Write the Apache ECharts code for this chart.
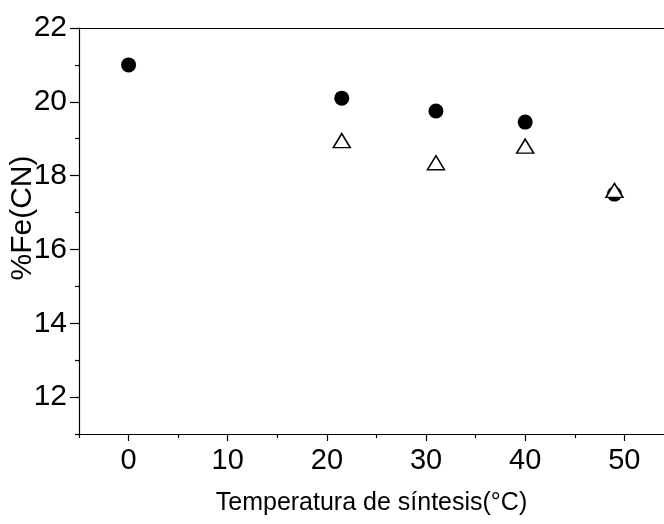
<!DOCTYPE html>
<html>
<head>
<meta charset="utf-8">
<script src="https://cdn.jsdelivr.net/npm/echarts@6/dist/echarts.min.js"></script>
<style>
  html, body { margin: 0; padding: 0; background: #fff; }
  #chart { width: 664px; height: 524px; }
</style>
</head>
<body>
<div id="chart"></div>
<script>
// ---- data ----
const tempsCircle = [0, 21.5, 31, 40, 49];
const feCircle = [21.0, 20.1, 19.75, 19.45, 17.5];
const tempsTriangle = [21.5, 31, 40, 49];
const feTriangle = [18.95, 18.35, 18.8, 17.6];

const xMajorTicks = [0, 10, 20, 30, 40, 50];
const xMinorTicks = [-5, 5, 15, 25, 35, 45];
const yMajorTicks = [12, 14, 16, 18, 20, 22];
const yMinorTicks = [11, 13, 15, 17, 19, 21];

const xTitle = 'Temperatura de síntesis(°C)';
const yTitle = '%Fe(CN)';

// ---- chart ----
const FONT = '"Liberation Sans", Arial, sans-serif';
const X_MIN = -5, X_MAX = 54, Y_MIN = 11, Y_MAX = 22;
const lineStyle = { color: '#000', width: 1.2 };

const chart = echarts.init(document.getElementById('chart'), null, { renderer: 'canvas' });

const option = {
  backgroundColor: '#fff',
  animation: false,
  grid: { left: 79, top: 28, right: 0, bottom: 90, containLabel: false, outerBoundsMode: 'none' },
  xAxis: [
    {
      type: 'value', position: 'bottom', min: X_MIN, max: X_MAX,
      name: xTitle, nameLocation: 'middle', nameGap: 57, nameMoveOverlap: false,
      nameTextStyle: { fontFamily: FONT, fontSize: 25, color: '#000' },
      axisLine: { show: true, onZero: false, lineStyle: lineStyle },
      axisTick: { show: true, inside: false, length: 7, customValues: xMajorTicks, lineStyle: lineStyle },
      axisLabel: { show: true, customValues: xMajorTicks, margin: 12, fontFamily: FONT, fontSize: 29, color: '#000' },
      splitLine: { show: false }
    },
    {
      type: 'value', position: 'bottom', min: X_MIN, max: X_MAX,
      axisLine: { show: false, onZero: false },
      axisTick: { show: true, inside: false, length: 4, customValues: xMinorTicks, lineStyle: lineStyle },
      axisLabel: { show: false },
      splitLine: { show: false }
    },
    {
      type: 'value', position: 'top', min: X_MIN, max: X_MAX,
      axisLine: { show: true, onZero: false, lineStyle: lineStyle },
      axisTick: { show: false },
      axisLabel: { show: false },
      splitLine: { show: false }
    }
  ],
  yAxis: [
    {
      type: 'value', position: 'left', min: Y_MIN, max: Y_MAX,
      name: yTitle, nameLocation: 'middle', nameGap: 41, nameRotate: 90, nameMoveOverlap: false,
      nameTextStyle: { fontFamily: FONT, fontSize: 30, color: '#000', padding: [0, 0, 0, 26] },
      axisLine: { show: true, onZero: false, lineStyle: lineStyle },
      axisTick: { show: true, inside: false, length: 9, customValues: yMajorTicks, lineStyle: lineStyle },
      axisLabel: { show: true, customValues: yMajorTicks, margin: 12, fontFamily: FONT, fontSize: 30, color: '#000' },
      splitLine: { show: false }
    },
    {
      type: 'value', position: 'left', min: Y_MIN, max: Y_MAX,
      axisLine: { show: false, onZero: false },
      axisTick: { show: true, inside: false, length: 4, customValues: yMinorTicks, lineStyle: lineStyle },
      axisLabel: { show: false },
      splitLine: { show: false }
    }
  ],
  series: [
    {
      name: 'circle', type: 'scatter', xAxisIndex: 0, yAxisIndex: 0,
      symbol: 'circle', symbolSize: 15,
      itemStyle: { color: '#000', opacity: 1 },
      data: tempsCircle.map((t, i) => [t, feCircle[i]]),
      z: 3
    },
    {
      name: 'triangle', type: 'scatter', xAxisIndex: 0, yAxisIndex: 0,
      symbol: 'triangle', symbolSize: [17, 14],
      itemStyle: { color: '#fff', borderColor: '#000', borderWidth: 1.5, opacity: 1 },
      data: tempsTriangle.map((t, i) => [t, feTriangle[i]]),
      z: 4
    }
  ]
};

chart.setOption(option);
</script>
</body>
</html>
